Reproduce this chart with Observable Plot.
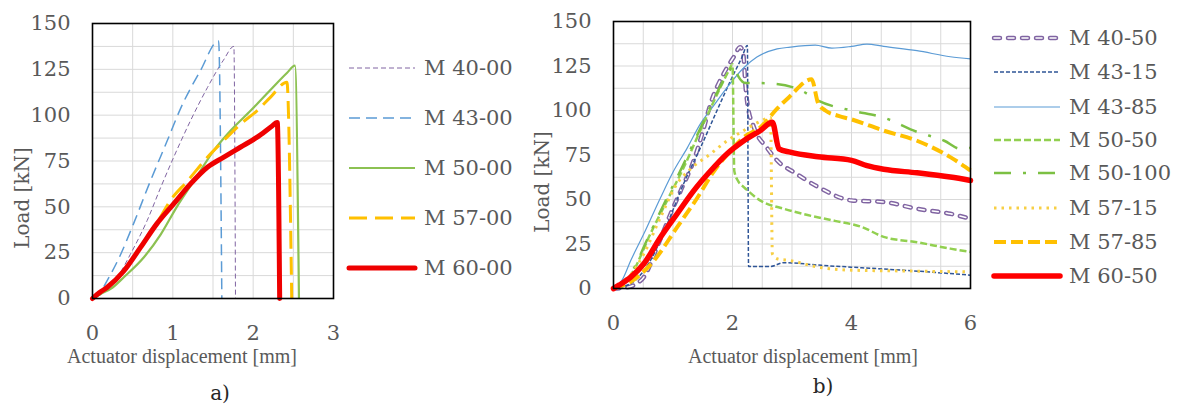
<!DOCTYPE html>
<html><head><meta charset="utf-8">
<script src="https://cdn.jsdelivr.net/npm/d3@7"></script>
<script src="https://cdn.jsdelivr.net/npm/@observablehq/plot@0.6"></script>
<style>
html,body{margin:0;padding:0;background:#fff}
#root{position:relative;width:1180px;height:405px;overflow:hidden;color:#595959}
.panel{position:absolute;top:0}
.leg{position:absolute;display:flex;align-items:center;height:26px;font-family:"DejaVu Serif",serif;font-size:21px;color:#595959;white-space:nowrap}
.leg svg{display:block;margin-right:6px}
.cap{position:absolute;font-family:"DejaVu Serif",serif;font-size:20px;color:#262626;transform:translate(-50%,-50%);white-space:nowrap}
.xt{position:absolute;font-family:"Liberation Serif",serif;font-size:20px;color:#595959;transform:translate(-50%,-50%);white-space:nowrap;line-height:1}
.yt{position:absolute;font-family:"DejaVu Serif",serif;font-size:20px;color:#595959;transform:translate(-50%,-50%) rotate(-90deg);white-space:nowrap;line-height:1}
</style>
</head><body>
<div id="root"></div>
<script>
// ---------- Panel a data ----------
const aXTicks = [0, 1, 2, 3];
const aXGrid = [0.5, 1, 1.5, 2, 2.5];
const yTicks = [0, 25, 50, 75, 100, 125, 150];
const yGrid = [12.5, 25, 37.5, 50, 62.5, 75, 87.5, 100, 112.5, 125, 137.5];
const aNames = ["M 40-00", "M 43-00", "M 50-00", "M 57-00", "M 60-00"];

const a4000x = [0, 0.1, 0.2, 0.33, 0.47, 0.68, 0.85, 1.01, 1.22, 1.43, 1.63, 1.76, 1.78];
const a4000y = [0, 2, 6, 13, 24, 42.5, 60.7, 77, 97, 115, 130, 137.5, 0];
const a4300x = [0, 0.08, 0.16, 0.35, 0.51, 0.72, 0.93, 1.1, 1.34, 1.57, 1.61];
const a4300y = [0, 2, 8, 24, 40.7, 64, 86, 104, 124, 140.5, 0];
const a5000x = [0, 0.1, 0.25, 0.39, 0.64, 0.85, 1.05, 1.26, 1.51, 1.72, 1.97, 2.22, 2.42, 2.52, 2.57];
const a5000y = [0, 2.5, 6, 11.6, 22.5, 35, 50, 64, 80.7, 91.6, 102.5, 114, 123, 127, 0];
const a5700x = [0, 0.18, 0.39, 0.6, 0.8, 0.97, 1.18, 1.43, 1.63, 1.84, 2.05, 2.22, 2.42, 2.48];
const a5700y = [0, 6, 15, 28, 41, 53.5, 64, 77, 86, 95, 102.5, 110, 118, 0];
const a6000x = [0, 0.08, 0.18, 0.39, 0.6, 0.8, 1.01, 1.22, 1.43, 1.63, 1.84, 2.05, 2.22, 2.3, 2.33];
const a6000y = [0, 3, 6, 15, 28, 40.7, 51.6, 62.5, 71.6, 77, 82.5, 88, 93.5, 96, 0];

// ---------- Panel b data ----------
const bXTicks = [0, 2, 4, 6];
const bXGrid = [0.5, 1, 1.5, 2, 2.5, 3, 3.5, 4, 4.5, 5, 5.5];
const bNames = ["M 40-50", "M 43-15", "M 43-85", "M 50-50", "M 50-100", "M 57-15", "M 57-85", "M 60-50"];

const b4050x = [0, 0.2, 0.4, 0.51, 0.73, 0.96, 1.13, 1.35, 1.5, 1.63, 1.85, 2.02, 2.13, 2.18, 2.22, 2.25, 2.36, 2.58, 2.81, 3.0, 3.44, 4.0, 4.54, 5.1, 5.66, 6];
const b4050y = [0, 0.5, 3, 6.4, 23, 42, 55, 72, 88, 103.7, 120.6, 130, 135.6, 132, 113, 104, 90.6, 79, 70, 66, 57, 49.5, 48.6, 44.8, 42, 39.2];
const b4315x = [0, 0.3, 0.62, 0.9, 1.18, 1.46, 1.74, 1.97, 2.16, 2.25, 2.27, 2.64, 2.86, 3.5, 4, 5, 6];
const b4315y = [0, 3, 15.7, 36, 59, 79, 100, 117, 130, 136.5, 12.4, 12.4, 14.5, 13, 12, 10, 7.5];
const b4385x = [0, 0.15, 0.29, 0.51, 0.79, 1.01, 1.24, 1.46, 1.69, 1.91, 2.19, 2.41, 2.75, 2.97, 3.39, 3.67, 4.0, 4.26, 4.54, 5.1, 5.66, 6.0];
const b4385y = [0, 5, 15.7, 30.7, 51, 66, 79, 92.5, 103, 113, 124, 130, 134.6, 135.6, 136.7, 135, 136, 137.3, 136, 133.6, 130.2, 129];
const b5050x = [0, 0.3, 0.62, 0.9, 1.18, 1.46, 1.74, 1.94, 2.0, 2.03, 2.1, 2.19, 2.47, 2.86, 3.17, 3.72, 4.17, 4.54, 5.1, 5.66, 6];
const b5050y = [0, 8, 30.7, 49.4, 68, 88.8, 109, 122.5, 126, 66, 60, 57, 49.4, 44.8, 42, 38, 34.6, 29, 26, 22.4, 20.5];
const b50100x = [0, 0.3, 0.6, 0.9, 1.18, 1.46, 1.74, 1.94, 2.02, 2.1, 2.22, 2.44, 2.72, 3.17, 3.44, 4.0, 4.54, 5.1, 5.56, 5.83, 6];
const b50100y = [0, 9, 30, 51, 70, 90, 110, 122, 125, 119, 115.4, 115.4, 115, 111, 105.5, 100, 96, 88, 83, 78.5, 79];
const b5715x = [0, 0.25, 0.51, 0.79, 1.07, 1.29, 1.63, 1.91, 2.19, 2.47, 2.64, 2.67, 2.75, 2.97, 3.44, 4, 5, 6];
const b5715y = [0, 6, 19.5, 40, 59, 67, 75.6, 83, 88.8, 94, 96, 19.5, 16.7, 15.7, 12, 10.3, 9.8, 9.3];
const b5785x = [0, 0.3, 0.68, 1.07, 1.41, 1.69, 1.97, 2.19, 2.47, 2.75, 2.95, 3.33, 3.44, 3.56, 3.78, 4, 4.54, 5.1, 5.66, 6];
const b5785y = [0, 4, 15.7, 34.5, 51, 66, 77.5, 85, 90.6, 101, 107.5, 117.5, 104, 100, 97, 95, 88.7, 83, 73.8, 66.3];
const b6050x = [0, 0.1, 0.29, 0.51, 0.79, 1.07, 1.35, 1.63, 1.91, 2.19, 2.47, 2.67, 2.78, 2.97, 3.44, 4.0, 4.26, 4.54, 5.1, 5.66, 6];
const b6050y = [0, 2, 6.4, 13.9, 28.8, 42, 55, 66, 75.7, 83, 88.8, 93.4, 78.5, 76.6, 74, 72, 69, 67, 65, 62.6, 60.7];

// ---------- styles ----------
const aStyles = [
  {stroke: "#8064a2", width: 1, dash: "5,3", cap: "butt"},
  {stroke: "#5b9bd5", width: 1.5, dash: "11,6", cap: "butt"},
  {stroke: "#8cc152", width: 2.2, dash: null, cap: "butt"},
  {stroke: "#ffc000", width: 3, dash: "18,8", cap: "butt"},
  {stroke: "#ee0000", width: 5, dash: null, cap: "round"}
];
const bStyles = [
  {stroke: "#8064a2", width: 4.5, dash: "6,8", cap: "round", inner: "#ffffff"},
  {stroke: "#2f5597", width: 1.5, dash: "4,2", cap: "butt"},
  {stroke: "#5b9bd5", width: 1.2, dash: null, cap: "butt"},
  {stroke: "#92d050", width: 2.5, dash: "7,3", cap: "butt"},
  {stroke: "#7cc043", width: 2.5, dash: "17,12,3,12", cap: "butt"},
  {stroke: "#f7cf45", width: 3, dash: "2.5,5", cap: "butt"},
  {stroke: "#ffc000", width: 4, dash: "12,5", cap: "butt"},
  {stroke: "#ff0000", width: 5.5, dash: null, cap: "round"}
];

const aSeries = [[a4000x, a4000y], [a4300x, a4300y], [a5000x, a5000y], [a5700x, a5700y], [a6000x, a6000y]];
const bSeries = [[b4050x, b4050y], [b4315x, b4315y], [b4385x, b4385y], [b5050x, b5050y], [b50100x, b50100y], [b5715x, b5715y], [b5785x, b5785y], [b6050x, b6050y]];

function lineMarks(series, styles) {
  const marks = [];
  series.forEach(([xs, ys], i) => {
    const s = styles[i];
    const pts = d3.zip(xs, ys);
    marks.push(Plot.line(pts, {curve: "monotone-x", stroke: s.stroke, strokeWidth: s.width, strokeDasharray: s.dash || undefined, strokeLinecap: s.cap, strokeLinejoin: "round"}));
    if (s.inner) marks.push(Plot.line(pts, {curve: "monotone-x", stroke: s.inner, strokeWidth: 1.6, strokeDasharray: s.dash, strokeLinecap: "round", strokeLinejoin: "round"}));
  });
  return marks;
}

function panel(opts) {
  return Plot.plot({
    width: opts.width, height: 370,
    marginLeft: opts.ml, marginRight: opts.mr, marginTop: opts.mt, marginBottom: opts.mb,
    style: {fontFamily: "'DejaVu Serif', serif", fontSize: "21px", color: "#595959", background: "transparent", overflow: "visible"},
    x: {domain: opts.xDomain, ticks: opts.xTicks, tickFormat: d => String(d), tickSize: 0, tickPadding: 27, label: null},
    y: {domain: [0, 150], ticks: yTicks, tickFormat: d => String(d), tickSize: 0, tickPadding: 22, label: null},
    marks: [
      Plot.ruleX(opts.xGrid, {stroke: "#d9d9d9", strokeWidth: 1}),
      Plot.ruleY(yGrid, {stroke: "#d9d9d9", strokeWidth: 1}),
      ...lineMarks(opts.series, opts.styles),
      Plot.frame({stroke: "#000", strokeWidth: 1.6})
    ]
  });
}

const root = document.getElementById("root");

const pa = panel({width: 345, ml: 92, mr: 12, mt: 23, mb: 72, xDomain: [0, 3], xTicks: aXTicks, xGrid: aXGrid,
  series: aSeries, styles: aStyles});
pa.classList.add("panel"); pa.style.left = "0px";
root.appendChild(pa);

const pb = panel({width: 460, ml: 93, mr: 10, mt: 21, mb: 82, xDomain: [0, 6], xTicks: bXTicks, xGrid: bXGrid,
  series: bSeries, styles: bStyles});
pb.classList.add("panel"); pb.style.left = "520px";
root.appendChild(pb);

function addText(cls, t, x, y) {
  const d = document.createElement("div");
  d.className = cls; d.textContent = t;
  d.style.left = x + "px"; d.style.top = y + "px";
  root.appendChild(d);
}
addText("yt", "Load [kN]", 22, 198);
addText("yt", "Load [kN]", 542, 182);
addText("xt", "Actuator displacement [mm]", 182, 356);
addText("xt", "Actuator displacement [mm]", 803, 356);

function legend(names, styles, left, tops) {
  names.forEach((name, i) => {
    const s = styles[i];
    const div = document.createElement("div");
    div.className = "leg";
    div.style.left = left + "px";
    div.style.top = (tops[i] - 13) + "px";
    const ns = "http://www.w3.org/2000/svg";
    const svg = document.createElementNS(ns, "svg");
    svg.setAttribute("width", 72); svg.setAttribute("height", 12);
    const mk = (stroke, w, dash, cap) => {
      const l = document.createElementNS(ns, "line");
      l.setAttribute("x1", 3); l.setAttribute("x2", 69); l.setAttribute("y1", 6); l.setAttribute("y2", 6);
      l.setAttribute("stroke", stroke); l.setAttribute("stroke-width", w);
      if (dash) l.setAttribute("stroke-dasharray", dash);
      l.setAttribute("stroke-linecap", cap);
      svg.appendChild(l);
    };
    mk(s.stroke, s.width, s.dash, s.cap);
    if (s.inner) mk(s.inner, 1.6, s.dash, "round");
    div.appendChild(svg);
    const sp = document.createElement("span");
    sp.textContent = name;
    div.appendChild(sp);
    root.appendChild(div);
  });
}
legend(aNames, aStyles, 346, [68, 118, 168, 218, 268]);
legend(bNames, bStyles, 991, [38, 72, 107, 140, 173, 208, 242, 276]);

addText("cap", "a)", 220, 393);
addText("cap", "b)", 823, 386);
</script>
</body></html>
